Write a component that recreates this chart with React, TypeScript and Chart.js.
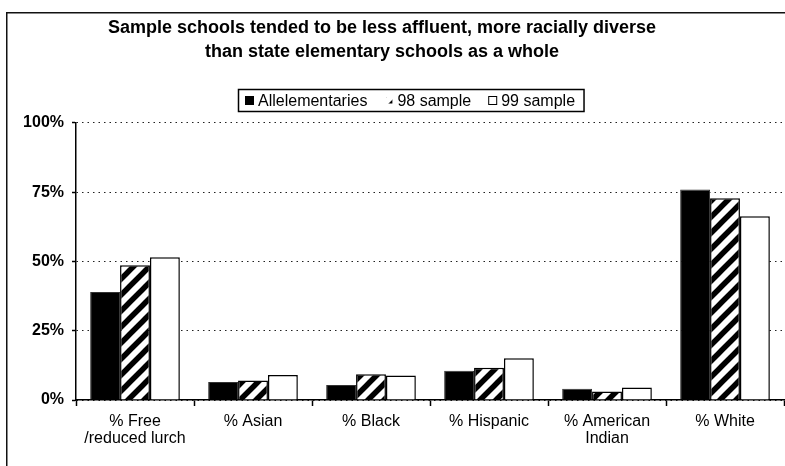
import React, { useEffect, useRef } from 'react';
import { Chart, registerables } from 'chart.js';

Chart.register(...registerables);

const categories: (string | string[])[] = [
  ['% Free', '/reduced lurch'],
  '% Asian',
  '% Black',
  '% Hispanic',
  ['% American', 'Indian'],
  '% White',
];
const allElementaries = [39.0, 6.5, 5.4, 10.6, 4.1, 76.0];
const sample98 = [48.6, 7.0, 9.3, 11.6, 3.1, 72.8];
const sample99 = [51.5, 9.0, 8.8, 15.1, 4.5, 66.3];
const seriesLabels = ['Allelementaries', '98 sample', '99 sample'];
const yTickValues = [0, 25, 50, 75, 100];
const titleLines = [
  'Sample schools tended to be less affluent, more racially diverse',
  'than state elementary schools as a whole',
];

const FONT = '"Liberation Sans", Arial, Helvetica, sans-serif';

function makeHatch(ctx: CanvasRenderingContext2D, size: number, lw: number) {
  const c = document.createElement('canvas');
  c.width = size;
  c.height = size;
  const g = c.getContext('2d')!;
  g.fillStyle = '#fff';
  g.fillRect(0, 0, size, size);
  g.strokeStyle = '#000';
  g.lineWidth = lw;
  g.lineCap = 'square';
  g.beginPath();
  for (const o of [-size, 0, size]) {
    g.moveTo(o - 4, size + 4);
    g.lineTo(o + size + 4, -4);
  }
  g.stroke();
  return ctx.createPattern(c, 'repeat')!;
}

const framePlugin = {
  id: 'outerFrame',
  beforeDraw(chart: any) {
    const ctx = chart.ctx;
    ctx.save();
    ctx.fillStyle = '#fff';
    ctx.fillRect(0, 0, chart.width, chart.height);
    ctx.strokeStyle = '#111';
    ctx.lineWidth = 1.5;
    ctx.strokeRect(6.75, 12.75, 900, 600);
    ctx.restore();
  },
};

const legendPlugin = {
  id: 'framedLegend',
  afterDraw(chart: any) {
    const ctx: CanvasRenderingContext2D = chart.ctx;
    const datasets = chart.data.datasets;
    ctx.save();
    ctx.font = `16px ${FONT}`;
    ctx.textBaseline = 'middle';
    ctx.textAlign = 'left';
    const cy = 100.5;
    const box = 9;
    const textGap = 4;
    const itemGap = 17;
    let x = 245;
    const left = 238.5;
    datasets.forEach((ds: any, i: number) => {
      if (i === 1) {
        ctx.fillStyle = ds.backgroundColor;
        ctx.fillRect(x + 2, cy - 3, 6, 6);
      } else {
        ctx.fillStyle = ds.backgroundColor;
        ctx.fillRect(x, cy - box / 2, box, box);
        ctx.strokeStyle = '#000';
        ctx.lineWidth = 1;
        ctx.strokeRect(x + 0.5, cy - box / 2 + 0.5, box - 1, box - 1);
      }
      ctx.fillStyle = '#000';
      ctx.fillText(ds.label, x + box + textGap, cy + 1);
      x += box + textGap + ctx.measureText(ds.label).width + itemGap;
    });
    const right = x - itemGap + 9;
    ctx.strokeStyle = '#000';
    ctx.lineWidth = 1.5;
    ctx.strokeRect(left, 89.5, right - left, 22);
    ctx.restore();
  },
};

export default function App() {
  const ref = useRef<HTMLCanvasElement | null>(null);

  useEffect(() => {
    const canvas = ref.current!;
    const ctx = canvas.getContext('2d')!;
    const hatch = makeHatch(ctx, 16, 5.5);
    Chart.defaults.font.family = FONT;

    const chart = new Chart(canvas, {
      type: 'bar',
      data: {
        labels: categories,
        datasets: [
          {
            label: seriesLabels[0],
            data: allElementaries,
            backgroundColor: '#000',
            borderColor: '#333',
            borderWidth: 1,
          },
          {
            label: seriesLabels[1],
            data: sample98,
            backgroundColor: hatch as any,
            borderColor: '#000',
            borderWidth: 1.5,
          },
          {
            label: seriesLabels[2],
            data: sample99,
            backgroundColor: '#fff',
            borderColor: '#000',
            borderWidth: 1.5,
          },
        ],
      },
      options: {
        responsive: false,
        animation: false,
        datasets: { bar: { categoryPercentage: 0.76, barPercentage: 1.0 } },
        layout: { padding: { left: -20, right: 1, top: 0, bottom: 0 } },
        plugins: {
          legend: { display: false },
          tooltip: { enabled: false },
          title: {
            display: true,
            text: titleLines,
            color: '#000',
            font: { family: FONT, size: 18, weight: 'bold', lineHeight: 1.33 },
            padding: { top: 16, bottom: 59 },
          },
        },
        scales: {
          x: {
            grid: {
              offset: true,
              drawOnChartArea: false,
              drawTicks: true,
              tickLength: 6,
              color: '#000',
              tickWidth: 1.5,
            },
            border: { display: true, color: '#000', width: 1.5 },
            ticks: {
              color: '#000',
              font: { family: FONT, size: 16, lineHeight: 1.08 },
              padding: 7,
              maxRotation: 0,
              autoSkip: false,
            },
            afterFit: (s: any) => {
              s.height = 66;
            },
          },
          y: {
            min: 0,
            max: 100,
            afterBuildTicks: (s: any) => {
              s.ticks = yTickValues.map((v) => ({ value: v }));
            },
            ticks: {
              color: '#000',
              font: { family: FONT, size: 16, weight: 'bold' },
              padding: 8,
              callback: (v: any) => `${v}%`,
            },
            grid: {
              color: '#222',
              lineWidth: 1,
              drawTicks: true,
              tickLength: 4,
              tickColor: '#000',
              tickWidth: 1.5,
              tickBorderDash: [],
            },
            border: { display: true, color: '#000', width: 1.5, dash: [1.5, 4] },
            afterFit: (s: any) => {
              s.width = 96;
            },
          },
        },
      },
      plugins: [framePlugin, legendPlugin],
    });
    return () => chart.destroy();
  }, []);

  return (
    <div style={{ position: 'fixed', left: 0, top: 0, width: 785, height: 466, background: '#fff' }}>
      <canvas ref={ref} width={785} height={466} style={{ display: 'block', width: 785, height: 466 }} />
    </div>
  );
}
